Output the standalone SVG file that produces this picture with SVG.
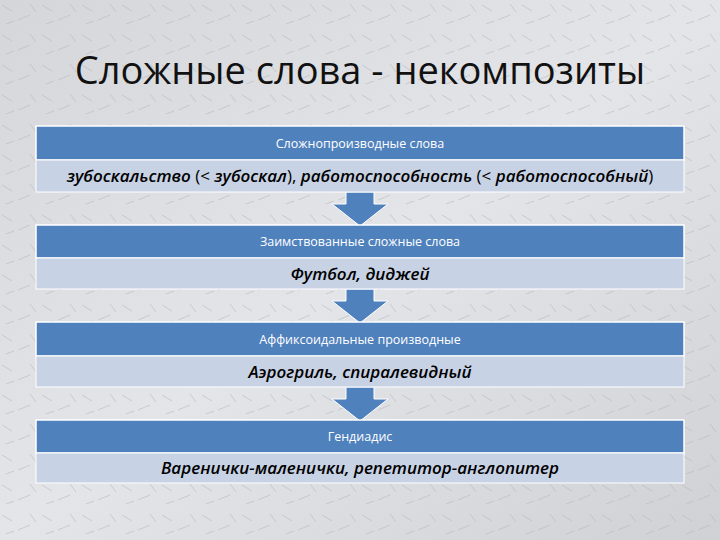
<svg xmlns="http://www.w3.org/2000/svg" width="720" height="540" viewBox="0 0 720 540">
<defs>
<linearGradient id="bg" x1="0" y1="0" x2="1" y2="1">
<stop offset="0" stop-color="#d4d6da"/><stop offset="0.5" stop-color="#e4e5e8"/><stop offset="1" stop-color="#cfd1d5"/>
</linearGradient>
<pattern id="tex" width="40" height="30" patternUnits="userSpaceOnUse">
<path d="M2 5 l10 6 M18 20 l12 -5 M30 4 l6 8 M6 24 l8 -3" stroke="#b5b8bd" stroke-width="1" fill="none"/>
</pattern>
</defs>
<style>
.hd{fill:#4f81bd;stroke:#fff;stroke-width:1.5}
.bd{fill:#c8d2e5;stroke:#fff;stroke-width:1}
.ht{font-family:"Open Sans","Liberation Sans",sans-serif;font-size:12.5px;fill:#fff;text-anchor:middle}
.bt{font-family:"Open Sans","Liberation Sans",sans-serif;font-size:17px;fill:#000;text-anchor:middle;font-style:italic;font-weight:600}
.n{font-style:normal;font-weight:normal}
.ar{fill:#4f81bd;stroke:#fff;stroke-width:1}
</style>
<rect width="720" height="540" fill="url(#bg)"/>
<rect width="720" height="540" fill="url(#tex)" opacity="0.6"/>
<text x="360" y="84" font-family="'Open Sans','Liberation Sans',sans-serif" font-size="38" fill="#111" text-anchor="middle">Сложные слова - некомпозиты</text>
<g id="connectors">
<path class="ar" d="M346 192 h28 v12 h14 l-28 22 l-28 -22 h14 z"/>
<path class="ar" d="M346 289 h28 v12 h14 l-28 22 l-28 -22 h14 z"/>
<path class="ar" d="M346 387 h28 v12 h14 l-28 22 l-28 -22 h14 z"/>
</g>
<g id="n1"><rect class="hd" x="36" y="126" width="648" height="34"/><rect class="bd" x="36" y="160" width="648" height="32"/>
<text class="ht" x="360" y="148">Сложнопроизводные слова</text>
<text class="bt" x="360" y="182">зубоскальство <tspan class="n">(&lt; </tspan>зубоскал<tspan class="n">), </tspan>работоспособность <tspan class="n">(&lt; </tspan>работоспособный<tspan class="n">)</tspan></text></g>
<g id="n2"><rect class="hd" x="36" y="225" width="648" height="33"/><rect class="bd" x="36" y="258" width="648" height="31"/>
<text class="ht" x="360" y="246">Заимствованные сложные слова</text>
<text class="bt" x="360" y="280">Футбол, диджей</text></g>
<g id="n3"><rect class="hd" x="36" y="322" width="648" height="34"/><rect class="bd" x="36" y="356" width="648" height="31"/>
<text class="ht" x="360" y="344">Аффиксоидальные производные</text>
<text class="bt" x="360" y="378">Аэрогриль, спиралевидный</text></g>
<g id="n4"><rect class="hd" x="36" y="420" width="648" height="33"/><rect class="bd" x="36" y="453" width="648" height="30"/>
<text class="ht" x="360" y="441">Гендиадис</text>
<text class="bt" x="360" y="474">Варенички-маленички, репетитор-англопитер</text></g>
</svg>
